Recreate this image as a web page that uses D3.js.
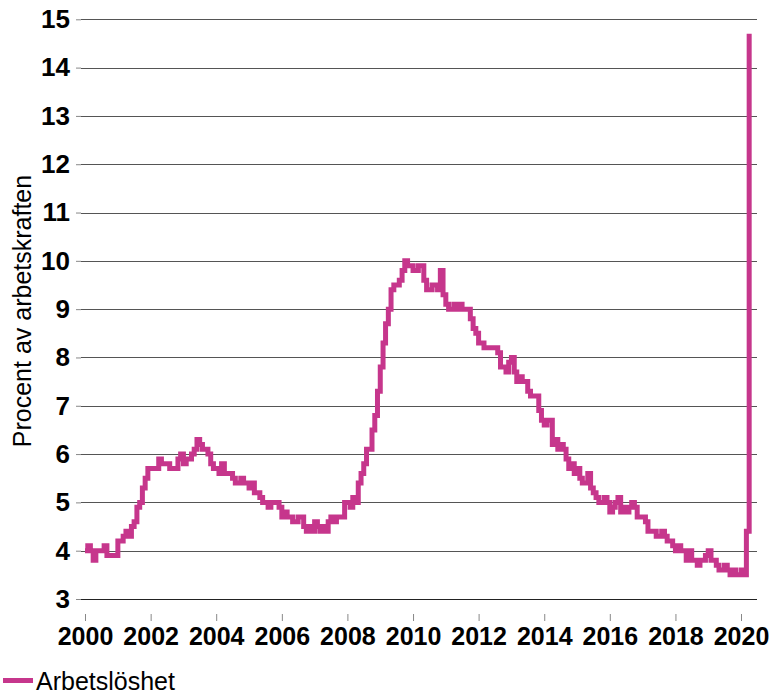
<!DOCTYPE html>
<html>
<head>
<meta charset="utf-8">
<script src="https://cdn.jsdelivr.net/npm/d3@7.9.0/dist/d3.min.js"></script>
<style>
  html, body { margin: 0; padding: 0; background: #fff; }
  svg { display: block; font-family: "Liberation Sans", Arial, sans-serif; }
</style>
</head>
<body>
<div id="viz"></div>
<script>
// Monthly unemployment (%), Jan 2000 - Apr 2020
const startYear = 2000;
const rates = [
  4.0, 4.1, 4.0, 3.8, 4.0, 4.0, 4.0, 4.1, 3.9, 3.9, 3.9, 3.9,   // 2000
  4.2, 4.2, 4.3, 4.4, 4.3, 4.5, 4.6, 4.9, 5.0, 5.3, 5.5, 5.7,   // 2001
  5.7, 5.7, 5.7, 5.9, 5.8, 5.8, 5.8, 5.7, 5.7, 5.7, 5.9, 6.0,   // 2002
  5.8, 5.9, 5.9, 6.0, 6.1, 6.3, 6.2, 6.1, 6.1, 6.0, 5.8, 5.7,   // 2003
  5.7, 5.6, 5.8, 5.6, 5.6, 5.6, 5.5, 5.4, 5.4, 5.5, 5.4, 5.4,   // 2004
  5.3, 5.4, 5.2, 5.2, 5.1, 5.0, 5.0, 4.9, 5.0, 5.0, 5.0, 4.9,   // 2005
  4.7, 4.8, 4.7, 4.7, 4.6, 4.6, 4.7, 4.7, 4.5, 4.4, 4.5, 4.4,   // 2006
  4.6, 4.5, 4.4, 4.5, 4.4, 4.6, 4.7, 4.6, 4.7, 4.7, 4.7, 5.0,   // 2007
  5.0, 4.9, 5.1, 5.0, 5.4, 5.6, 5.8, 6.1, 6.1, 6.5, 6.8, 7.3,   // 2008
  7.8, 8.3, 8.7, 9.0, 9.4, 9.5, 9.5, 9.6, 9.8, 10.0, 9.9, 9.9,  // 2009
  9.8, 9.8, 9.9, 9.9, 9.6, 9.4, 9.4, 9.5, 9.5, 9.4, 9.8, 9.3,   // 2010
  9.1, 9.0, 9.0, 9.1, 9.0, 9.1, 9.0, 9.0, 9.0, 8.8, 8.6, 8.5,   // 2011
  8.3, 8.3, 8.2, 8.2, 8.2, 8.2, 8.2, 8.1, 7.8, 7.8, 7.7, 7.9,   // 2012
  8.0, 7.7, 7.5, 7.6, 7.5, 7.5, 7.3, 7.2, 7.2, 7.2, 6.9, 6.7,   // 2013
  6.6, 6.7, 6.7, 6.2, 6.3, 6.1, 6.2, 6.1, 5.9, 5.7, 5.8, 5.6,   // 2014
  5.7, 5.5, 5.4, 5.4, 5.6, 5.3, 5.2, 5.1, 5.0, 5.0, 5.1, 5.0,   // 2015
  4.8, 4.9, 5.0, 5.1, 4.8, 4.9, 4.8, 4.9, 5.0, 4.9, 4.7, 4.7,   // 2016
  4.7, 4.6, 4.4, 4.4, 4.4, 4.3, 4.3, 4.4, 4.3, 4.2, 4.2, 4.1,   // 2017
  4.0, 4.1, 4.0, 4.0, 3.8, 4.0, 3.8, 3.8, 3.7, 3.8, 3.8, 3.9,   // 2018
  4.0, 3.8, 3.8, 3.7, 3.6, 3.6, 3.7, 3.6, 3.5, 3.6, 3.5, 3.5,   // 2019
  3.6, 3.5, 4.4, 14.7                                           // 2020
];
const yTicks = [3, 4, 5, 6, 7, 8, 9, 10, 11, 12, 13, 14, 15];
const xTickYears = [2000, 2002, 2004, 2006, 2008, 2010, 2012, 2014, 2016, 2018, 2020];
const seriesName = "Arbetslöshet";
const yTitle = "Procent av arbetskraften";

const data = rates.map((v, i) => ({
  date: new Date(startYear + Math.floor(i / 12), i % 12, 1),
  value: v
}));

const W = 772, H = 694;
const svg = d3.select("#viz").append("svg")
  .attr("width", W).attr("height", H);

const x = d3.scaleTime()
  .domain([new Date(2000, 0, 1), new Date(2020, 0, 1)])
  .range([85, 741]);
const y = d3.scaleLinear()
  .domain([3, 15])
  .range([599, 19.3]);

const pink = "#c6368c";

// gridlines
svg.append("g").selectAll("line")
  .data(yTicks)
  .join("line")
  .attr("x1", 81).attr("x2", 757)
  .attr("y1", d => Math.round(y(d)) + 0.5)
  .attr("y2", d => Math.round(y(d)) + 0.5)
  .attr("stroke", d => d === 3 ? "#222" : "#555")
  .attr("stroke-width", 1);

// y axis (short ticks + bold labels)
const yAxis = svg.append("g")
  .attr("transform", "translate(81,0)")
  .call(d3.axisLeft(y).tickValues(yTicks).tickSize(5).tickPadding(6).tickFormat(d3.format("d")));
yAxis.select(".domain").remove();
yAxis.selectAll(".tick line").attr("stroke", "#888");
yAxis.selectAll(".tick text")
  .attr("font-family", "Liberation Sans, Arial, sans-serif")
  .attr("font-size", 26).attr("font-weight", "bold").attr("fill", "#000");

// x axis
const xAxis = svg.append("g")
  .attr("transform", "translate(0,614)")
  .call(d3.axisBottom(x)
    .tickValues(xTickYears.map(yr => new Date(yr, 0, 1)))
    .tickSize(7).tickPadding(6)
    .tickFormat(d3.timeFormat("%Y")));
xAxis.select(".domain").remove();
xAxis.selectAll(".tick line").attr("stroke", "#888");
xAxis.selectAll(".tick text")
  .attr("font-family", "Liberation Sans Narrow, Arial Narrow, sans-serif")
  .attr("font-size", 25).attr("font-weight", "bold").attr("fill", "#000");

// y title
svg.append("text")
  .attr("transform", "translate(31,311) rotate(-90)")
  .attr("text-anchor", "middle")
  .attr("font-size", 25)
  .attr("fill", "#000")
  .text(yTitle);

// series line
svg.append("path")
  .datum(data)
  .attr("fill", "none")
  .attr("stroke", pink)
  .attr("stroke-width", 5)
  .attr("d", d3.line()
    .curve(d3.curveStepAfter)
    .x(d => x(d.date))
    .y(d => y(d.value)));

// legend
svg.append("rect")
  .attr("x", 3).attr("y", 678).attr("width", 30).attr("height", 5)
  .attr("fill", pink);
svg.append("text")
  .attr("x", 36).attr("y", 690)
  .attr("font-size", 25)
  .attr("fill", "#000")
  .text(seriesName);
</script>
</body>
</html>
